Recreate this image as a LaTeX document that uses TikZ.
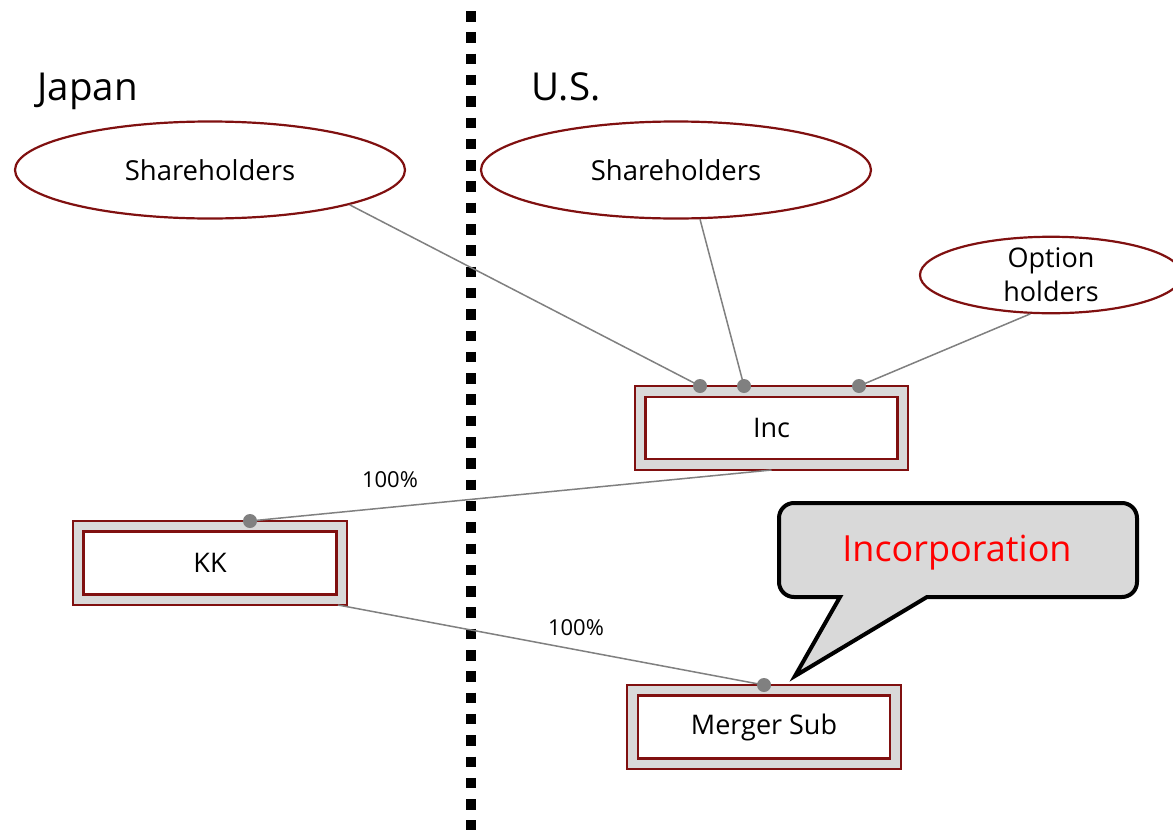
\documentclass[tikz,border=0pt]{standalone}
\usepackage{fontspec}
\setmainfont{Open Sans}
\usetikzlibrary{shapes.geometric,calc}
\definecolor{boxred}{RGB}{128,16,16}
\definecolor{linkgray}{RGB}{128,128,128}
\definecolor{bandgray}{RGB}{217,217,217}
\tikzset{
  party/.style={ellipse,draw=boxred,line width=2.2pt,fill=white,inner sep=0pt,
    font=\fontsize{27.5}{31}\selectfont},
  outerbox/.style={rectangle,draw=boxred,line width=2.2pt,fill=bandgray,inner sep=0pt,outer sep=0pt},
  innerbox/.style={rectangle,draw=boxred,line width=2.5pt,fill=white,inner sep=0pt,
    font=\fontsize{27}{31}\selectfont},
  link/.style={draw=linkgray,line width=1.5pt},
  dot/.style={circle,fill=linkgray,inner sep=0pt,minimum size=14pt},
  pct/.style={font=\fontsize{22}{25}\selectfont},
  region/.style={font=\fontsize{38.5}{42}\selectfont,anchor=base west},
}
\begin{document}
\begin{tikzpicture}[x=1pt,y=-1pt]
\useasboundingbox[fill=white] (0,0) rectangle (1173,830);

% border between the two jurisdictions
\draw[line width=10.5pt,dash pattern=on 10.5pt off 10.8pt] (471,11) -- (471,830);

\node[region] (japan) at (34,100) {Japan};
\node[region] (us) at (528,100) {U.S.};

% shareholder groups
\node[party,minimum width=390pt,minimum height=97pt] (lsh) at (210,170) {Shareholders};
\node[party,minimum width=390pt,minimum height=97pt] (rsh) at (676,170) {Shareholders};
\node[party,minimum width=262pt,minimum height=76pt,align=center,
      font=\fontsize{27}{34}\selectfont] (opt) at (1051,275) {Option\\holders};

% entities
\node[outerbox,minimum width=273pt,minimum height=84pt] (inc) at (771.5,428) {};
\node[innerbox,minimum width=252pt,minimum height=62pt] (incin) at (inc.center) {Inc};
\node[outerbox,minimum width=274pt,minimum height=84pt] (kk) at (210,563) {};
\node[innerbox,minimum width=253pt,minimum height=63pt] (kkin) at (kk.center) {KK};
\node[outerbox,minimum width=274pt,minimum height=84pt] (msub) at (764,727) {};
\node[innerbox,minimum width=252pt,minimum height=63pt] (msubin) at (msub.center) {Merger Sub};

% attachment points
\coordinate (incA) at ($(inc.north west)+(65,0)$);
\coordinate (incB) at ($(inc.north west)+(109,0)$);
\coordinate (incC) at ($(inc.north west)+(224,0)$);
\coordinate (kkA) at ($(kk.north west)+(177,0)$);
\coordinate (kkB) at ($(kk.south east)+(-9,0)$);
\coordinate (msubA) at (msub.north);

% ownership links
\draw[link] (lsh.-14.5) -- (incA);
\draw[link] (rsh.-64) -- (incB);
\draw[link] (opt.-118) -- (incC);
\draw[link] (inc.south) -- (kkA);
\draw[link] (kkB) -- (msubA);

\node[dot] (dA) at (incA) {};
\node[dot] (dB) at (incB) {};
\node[dot] (dC) at (incC) {};
\node[dot] (dK) at (kkA) {};
\node[dot] (dM) at (msubA) {};

\node[pct] (p1) at (390,480) {100\%};
\node[pct] (p2) at (576,628) {100\%};

% callout
\draw[line width=4pt,fill=bandgray,line join=miter]
  (840,597) -- (795,676) -- (927,597)
  [rounded corners=15pt] -- (1137,597) -- (1137,503) -- (779,503) -- (779,597)
  [sharp corners] -- cycle;
\node[font=\fontsize{36}{40}\selectfont,text=red] (incorp) at (957,553) {Incorporation};
\end{tikzpicture}
\end{document}
